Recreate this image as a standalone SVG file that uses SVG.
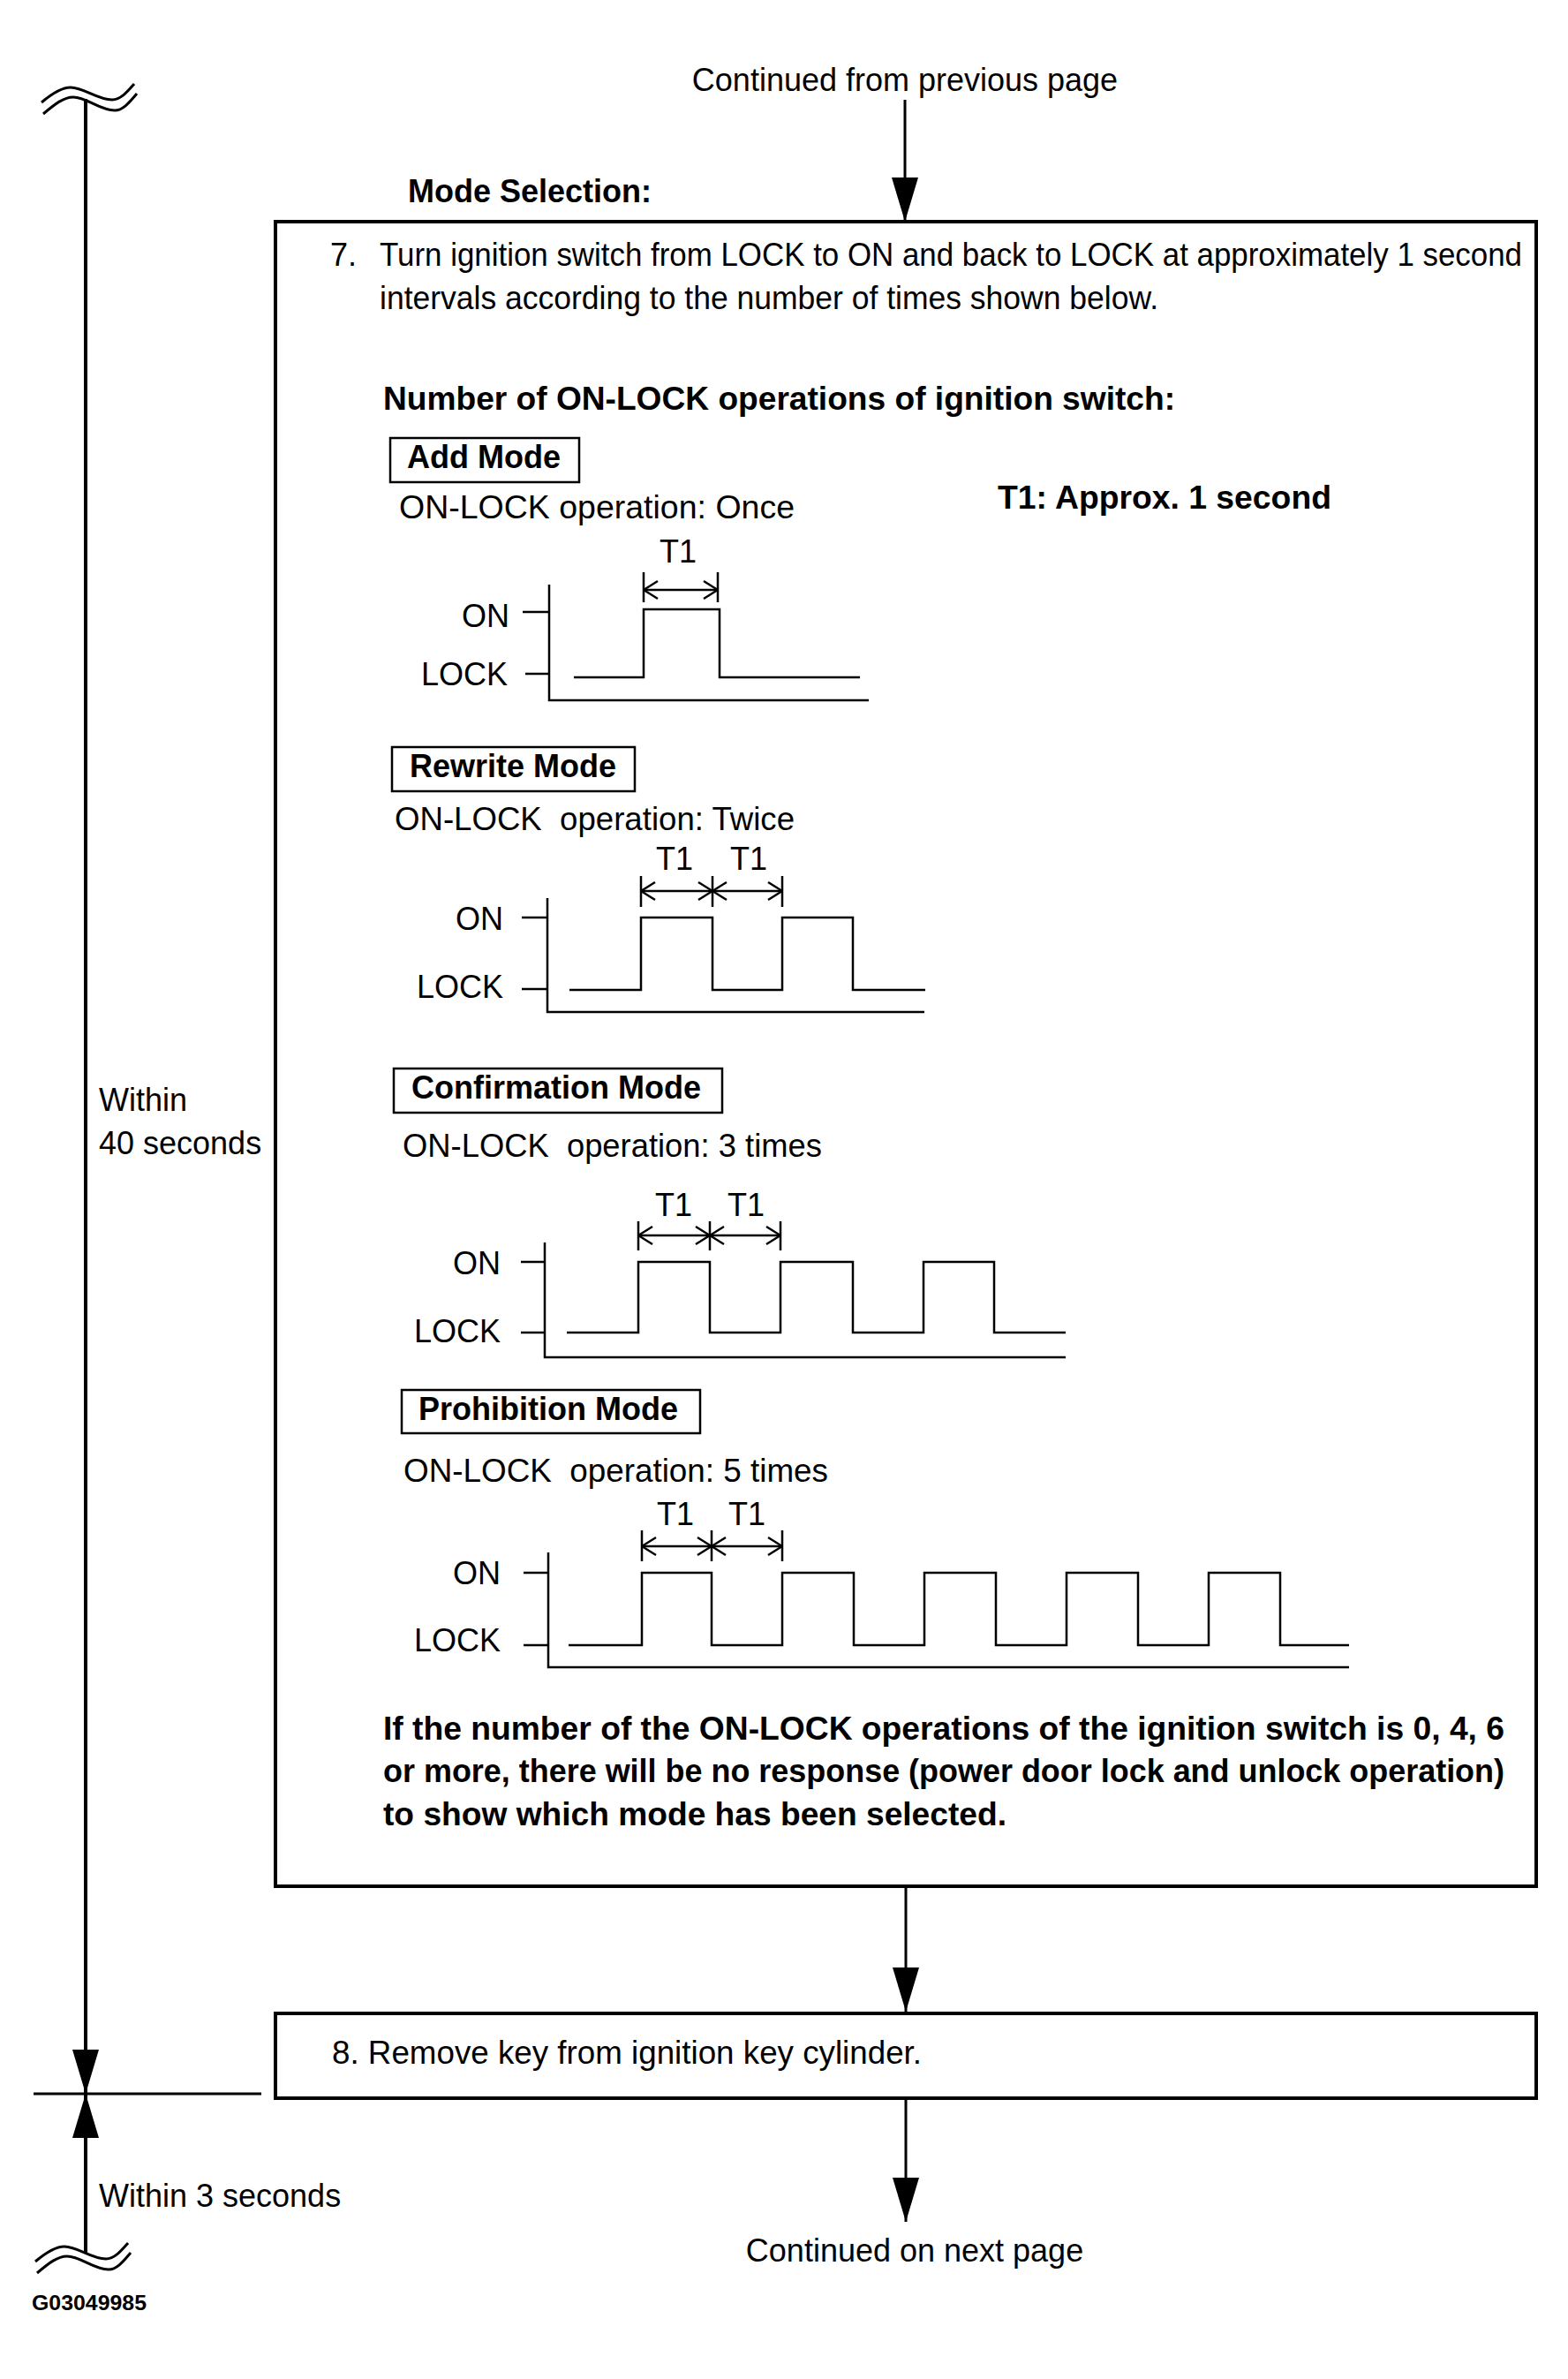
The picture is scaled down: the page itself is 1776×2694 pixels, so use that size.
<svg xmlns="http://www.w3.org/2000/svg" width="1776" height="2694" viewBox="0 0 1776 2694">
<style>
text{font-family:"Liberation Sans",Arial,sans-serif;font-size:36px;fill:#000}
.b{font-weight:bold}
.box{fill:none;stroke:#000;stroke-width:4}
.lbl{fill:none;stroke:#000;stroke-width:2.5}
.ln{fill:none;stroke:#000;stroke-width:3}
.sig{fill:none;stroke:#000;stroke-width:2.5}
.dim{fill:none;stroke:#000;stroke-width:2.5}
.ctr{text-anchor:middle}
.end{text-anchor:end}
</style>
<defs>
<marker id="arr" viewBox="0 0 50 32" refX="50" refY="16" markerWidth="50" markerHeight="32" markerUnits="userSpaceOnUse" orient="auto-start-reverse">
<path d="M0,1 L50,16 L0,31 Z" fill="#000"/>
</marker>
<marker id="oa" viewBox="0 0 20 24" refX="19" refY="12" markerWidth="20" markerHeight="24" markerUnits="userSpaceOnUse" orient="auto-start-reverse">
<path d="M3,2 L19,12 L3,22" fill="none" stroke="#000" stroke-width="2.5"/>
</marker>
<path id="sq" d="M47,116 C60,105 70,99 80,99 C95,99 110,113 127,113 C137,113 145,103 152,95 M49,129 C62,118 72,110 83,110 C98,110 113,125 130,125 C140,125 148,114 155,106" fill="none" stroke="#000" stroke-width="3"/>
</defs>

<g id="connectors">
<use href="#sq"/>
<use href="#sq" transform="translate(-7,2445)"/>
<line class="box" x1="97" y1="112" x2="97" y2="2371" marker-end="url(#arr)"/>
<line class="box" x1="97" y1="2371" x2="97" y2="2551" marker-start="url(#arr)"/>
<line class="ln" x1="38" y1="2371" x2="296" y2="2371"/>
<line class="ln" x1="1025" y1="113" x2="1025" y2="251" marker-end="url(#arr)"/>
<line class="ln" x1="1026" y1="2137" x2="1026" y2="2278" marker-end="url(#arr)"/>
<line class="ln" x1="1026" y1="2378" x2="1026" y2="2516" marker-end="url(#arr)"/>
</g>

<g id="labels">
<text class="ctr" x="1025" y="103">Continued from previous page</text>
<text class="b" x="462" y="229">Mode Selection:</text>
<text x="112" y="1258">Within</text>
<text x="112" y="1307">40 seconds</text>
<text x="112" y="2499">Within 3 seconds</text>
<text class="ctr" x="1036" y="2561">Continued on next page</text>
<text class="b" x="36" y="2616" style="font-size:24px" textLength="130" lengthAdjust="spacingAndGlyphs">G03049985</text>
</g>

<g id="step7">
<rect class="box" x="312" y="251" width="1428" height="1885"/>
<text x="374" y="301">7.</text>
<text x="430" y="301" textLength="1294" lengthAdjust="spacingAndGlyphs">Turn ignition switch from LOCK to ON and back to LOCK at approximately 1 second</text>
<text x="430" y="350" textLength="882" lengthAdjust="spacingAndGlyphs">intervals according to the number of times shown below.</text>
<text class="b" x="434" y="464" textLength="897" lengthAdjust="spacingAndGlyphs">Number of ON-LOCK operations of ignition switch:</text>
<text class="b" x="1130" y="576" textLength="378" lengthAdjust="spacingAndGlyphs">T1: Approx. 1 second</text>

<g id="add-mode">
<rect class="lbl" x="442" y="496" width="214" height="50"/>
<text class="b" x="461" y="530">Add Mode</text>
<text x="452" y="587" textLength="448" lengthAdjust="spacingAndGlyphs">ON-LOCK operation: Once</text>
<text class="ctr" x="768" y="637">T1</text>
<path class="dim" d="M729,648 V682 M813,648 V682"/>
<line class="dim" x1="729" y1="668" x2="813" y2="668" marker-start="url(#oa)" marker-end="url(#oa)"/>
<path class="sig" d="M622,662 V793 H984 M592,693 H622 M595,763 H622"/>
<path class="sig" d="M650,767 H729 V690 H815 V767 H974"/>
<text class="end" x="577" y="710">ON</text>
<text class="end" x="575" y="776">LOCK</text>
</g>

<g id="rewrite-mode">
<rect class="lbl" x="444" y="846" width="275" height="50"/>
<text class="b" x="464" y="880">Rewrite Mode</text>
<text x="447" y="940" textLength="453" lengthAdjust="spacingAndGlyphs">ON-LOCK <tspan dx="10">operation: Twice</tspan></text>
<text class="ctr" x="764" y="985">T1</text>
<text class="ctr" x="848" y="985">T1</text>
<path class="dim" d="M726,992 V1027 M807,992 V1027 M886,992 V1027"/>
<line class="dim" x1="726" y1="1009" x2="807" y2="1009" marker-start="url(#oa)" marker-end="url(#oa)"/>
<line class="dim" x1="807" y1="1009" x2="886" y2="1009" marker-start="url(#oa)" marker-end="url(#oa)"/>
<path class="sig" d="M620,1017 V1146 H1047 M591,1039 H620 M591,1120 H620"/>
<path class="sig" d="M645,1121 H726 V1039 H807 V1121 H886 V1039 H966 V1121 H1048"/>
<text class="end" x="570" y="1053">ON</text>
<text class="end" x="570" y="1130">LOCK</text>
</g>

<g id="confirmation-mode">
<rect class="lbl" x="446" y="1210" width="372" height="50"/>
<text class="b" x="466" y="1244">Confirmation Mode</text>
<text x="456" y="1310" textLength="475" lengthAdjust="spacingAndGlyphs">ON-LOCK <tspan dx="10">operation: 3 times</tspan></text>
<text class="ctr" x="763" y="1377">T1</text>
<text class="ctr" x="845" y="1377">T1</text>
<path class="dim" d="M723,1383 V1416 M804,1383 V1416 M884,1383 V1416"/>
<line class="dim" x1="723" y1="1399" x2="804" y2="1399" marker-start="url(#oa)" marker-end="url(#oa)"/>
<line class="dim" x1="804" y1="1399" x2="884" y2="1399" marker-start="url(#oa)" marker-end="url(#oa)"/>
<path class="sig" d="M617,1407 V1537 H1207 M590,1429 H617 M590,1509 H617"/>
<path class="sig" d="M642,1509 H723 V1429 H804 V1509 H884 V1429 H966 V1509 H1046 V1429 H1126 V1509 H1207"/>
<text class="end" x="567" y="1443">ON</text>
<text class="end" x="567" y="1520">LOCK</text>
</g>

<g id="prohibition-mode">
<rect class="lbl" x="455" y="1574" width="338" height="49"/>
<text class="b" x="474" y="1608">Prohibition Mode</text>
<text x="457" y="1678" textLength="481" lengthAdjust="spacingAndGlyphs">ON-LOCK <tspan dx="10">operation: 5 times</tspan></text>
<text class="ctr" x="765" y="1727">T1</text>
<text class="ctr" x="846" y="1727">T1</text>
<path class="dim" d="M727,1733 V1768 M806,1733 V1768 M886,1733 V1768"/>
<line class="dim" x1="727" y1="1751" x2="806" y2="1751" marker-start="url(#oa)" marker-end="url(#oa)"/>
<line class="dim" x1="806" y1="1751" x2="886" y2="1751" marker-start="url(#oa)" marker-end="url(#oa)"/>
<path class="sig" d="M621,1758 V1888 H1528 M593,1781 H621 M593,1863 H621"/>
<path class="sig" d="M644,1863 H727 V1781 H806 V1863 H886 V1781 H967 V1863 H1047 V1781 H1128 V1863 H1208 V1781 H1289 V1863 H1369 V1781 H1450 V1863 H1528"/>
<text class="end" x="567" y="1794">ON</text>
<text class="end" x="567" y="1870">LOCK</text>
</g>

<text class="b" x="434" y="1970" textLength="1270" lengthAdjust="spacingAndGlyphs">If the number of the ON-LOCK operations of the ignition switch is 0, 4, 6</text>
<text class="b" x="434" y="2018" textLength="1270" lengthAdjust="spacingAndGlyphs">or more, there will be no response (power door lock and unlock operation)</text>
<text class="b" x="434" y="2067" textLength="706" lengthAdjust="spacingAndGlyphs">to show which mode has been selected.</text>
</g>

<g id="step8">
<rect class="box" x="312" y="2280" width="1428" height="96"/>
<text x="376" y="2337" textLength="668" lengthAdjust="spacingAndGlyphs">8. Remove key from ignition key cylinder.</text>
</g>
</svg>
